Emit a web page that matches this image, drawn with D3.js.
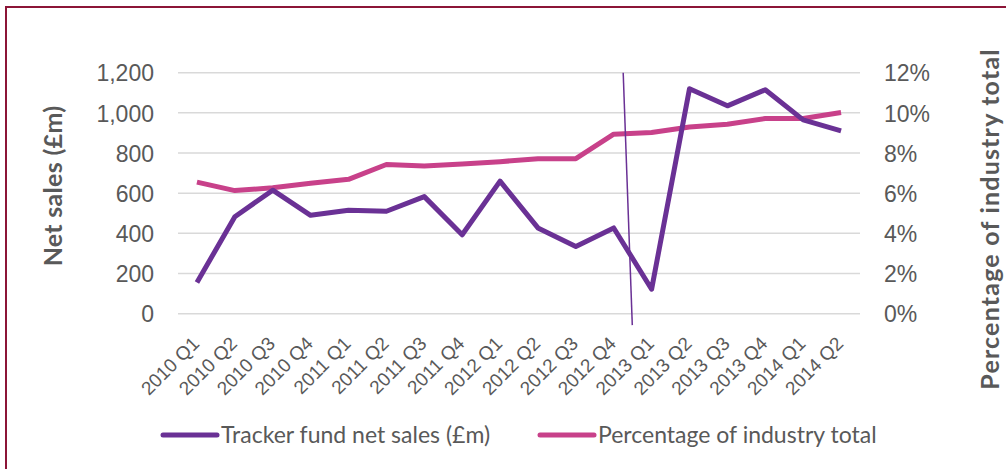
<!DOCTYPE html>
<html><head><meta charset="utf-8">
<script src="https://cdn.jsdelivr.net/npm/d3@7"></script>
<style>body{margin:0;background:#fff;}svg{display:block;font-family:Lato,"Open Sans",sans-serif;}</style>
</head><body>
<script>
const categories = ["2010 Q1","2010 Q2","2010 Q3","2010 Q4","2011 Q1","2011 Q2","2011 Q3","2011 Q4","2012 Q1","2012 Q2","2012 Q3","2012 Q4","2013 Q1","2013 Q2","2013 Q3","2013 Q4","2014 Q1","2014 Q2"];
const trackerSales = [155,483,615,490,515,510,583,393,660,427,335,427,122,1120,1035,1115,965,910];
const industryPct = [0.0655,0.0613,0.0627,0.065,0.0669,0.0743,0.0735,0.0745,0.0757,0.0772,0.0772,0.0894,0.0902,0.093,0.0943,0.0972,0.0972,0.1002];
const leftTicks = [0,200,400,600,800,1000,1200];
const rightTicks = [0,0.02,0.04,0.06,0.08,0.10,0.12];
const annotIndex = [11.25,11.49];
const annotValue = [1200,-57];

const W=1006,H=469;
const textCol="#595959", purple="#6a3195", pink="#c8418a";
const svg=d3.select("body").append("svg").attr("width",W).attr("height",H);

svg.append("rect").attr("x",6).attr("y",7).attr("width",W+20).attr("height",H+20)
  .attr("fill","none").attr("stroke","#8c1537").attr("stroke-width",2);

const x=d3.scalePoint().domain(categories).range([178,860]).padding(0.5);
const yL=d3.scaleLinear().domain([0,1200]).range([313.7,72.7]);
const yR=d3.scaleLinear().domain([0,0.12]).range([313.7,72.7]);

// gridlines
svg.append("g").selectAll("line").data(leftTicks).join("line")
  .attr("x1",178).attr("x2",860).attr("y1",d=>yL(d)).attr("y2",d=>yL(d))
  .attr("stroke","#d9d9d9").attr("stroke-width",1.5);

// left axis
const gL=svg.append("g").attr("transform","translate(154,0)")
  .call(d3.axisLeft(yL).tickValues(leftTicks).tickSize(0).tickPadding(0).tickFormat(d3.format(",")));
gL.select(".domain").remove();
gL.selectAll("text").attr("fill",textCol).style("font-size","23px").attr("dy","0.36em");

// right axis
const gR=svg.append("g").attr("transform","translate(884,0)")
  .call(d3.axisRight(yR).tickValues(rightTicks).tickSize(0).tickPadding(0).tickFormat(d3.format(".0%")));
gR.select(".domain").remove();
gR.selectAll("text").attr("fill",textCol).style("font-size","23px").attr("dy","0.36em");

// x axis
const gX=svg.append("g").attr("transform","translate(0,313.7)")
  .call(d3.axisBottom(x).tickSize(0).tickPadding(0));
gX.select(".domain").remove();
gX.selectAll("text").attr("fill",textCol).style("font-size","19px")
  .attr("text-anchor","end").attr("dy",null).attr("y",null)
  .attr("transform","translate(3,31) rotate(-45)");

// axis titles
svg.append("text").attr("transform","translate(62,186) rotate(-90)")
  .attr("text-anchor","middle").attr("fill",textCol).style("font-size","25px").style("font-weight","bold")
  .style("letter-spacing","0.3px").text("Net sales (£m)");
svg.append("text").attr("transform","translate(999,219) rotate(-90)")
  .attr("text-anchor","middle").attr("fill",textCol).style("font-size","25px").style("font-weight","bold")
  .style("letter-spacing","1.2px").text("Percentage of industry total");

// lines
svg.append("path").datum(industryPct).attr("fill","none").attr("stroke",pink).attr("stroke-width",5)
  .attr("stroke-linejoin","round")
  .attr("d",d3.line().x((d,i)=>x(categories[i])).y(d=>yR(d)));
svg.append("path").datum(trackerSales).attr("fill","none").attr("stroke",purple).attr("stroke-width",5)
  .attr("stroke-linejoin","round")
  .attr("d",d3.line().x((d,i)=>x(categories[i])).y(d=>yL(d)));

// annotation line
const ax=i=>x(categories[0])+i*x.step();
svg.append("line").attr("x1",ax(annotIndex[0])).attr("y1",yL(annotValue[0]))
  .attr("x2",ax(annotIndex[1])).attr("y2",yL(annotValue[1]))
  .attr("stroke",purple).attr("stroke-width",1.5);

// legend
const legend=[{label:"Tracker fund net sales (£m)",color:purple,x:163},{label:"Percentage of industry total",color:pink,x:540}];
const lg=svg.append("g").selectAll("g").data(legend).join("g").attr("transform",d=>`translate(${d.x},435)`);
lg.append("line").attr("x1",0).attr("x2",54).attr("stroke",d=>d.color).attr("stroke-width",5).attr("stroke-linecap","round");
lg.append("text").attr("x",58).attr("dy","0.36em").attr("fill",textCol).style("font-size","23px").text(d=>d.label);
</script>
</body></html>
